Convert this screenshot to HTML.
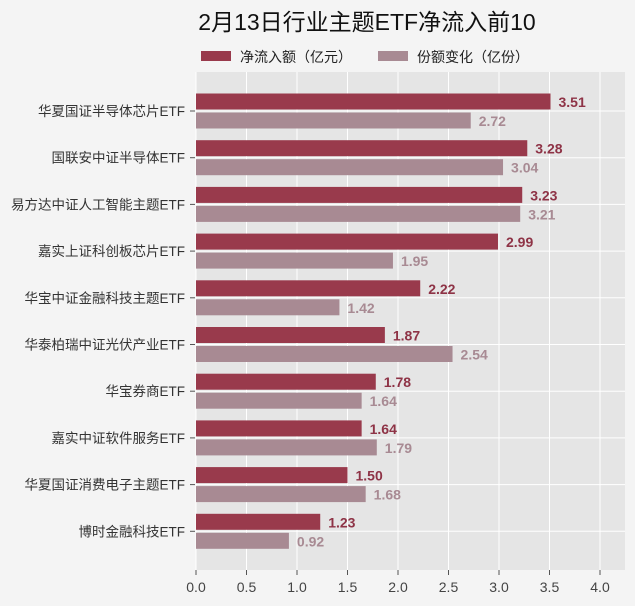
<!DOCTYPE html>
<html><head><meta charset="utf-8"><style>
html,body{margin:0;padding:0;background:#f4f4f4;}
svg{display:block;font-family:"Liberation Sans","Noto Sans CJK SC",sans-serif;}
</style></head><body>
<svg id="chart" width="635" height="606">
<rect x="0" y="0" width="635" height="606" fill="#f4f4f4"/>
<text x="367" y="30" font-size="23" text-anchor="middle" fill="#111">2月13日行业主题ETF净流入前10</text>
<g>
<rect x="201" y="51" width="30" height="10" fill="#993a4c"/>
<text x="240" y="62" font-size="14" fill="#222">净流入额（亿元）</text>
<rect x="378" y="51" width="30" height="10" fill="#a88a93"/>
<text x="417" y="62" font-size="14" fill="#222">份额变化（亿份）</text>
</g>
<rect x="196" y="72" width="429" height="498" fill="#e5e5e5"/>
<g id="grid"></g><g id="bars"></g><g id="axes"></g>
</svg>
<script>
const categories=["华夏国证半导体芯片ETF","国联安中证半导体ETF","易方达中证人工智能主题ETF","嘉实上证科创板芯片ETF","华宝中证金融科技主题ETF","华泰柏瑞中证光伏产业ETF","华宝券商ETF","嘉实中证软件服务ETF","华夏国证消费电子主题ETF","博时金融科技ETF"];
const netInflow=[3.51,3.28,3.23,2.99,2.22,1.87,1.78,1.64,1.50,1.23];
const shareChange=[2.72,3.04,3.21,1.95,1.42,2.54,1.64,1.79,1.68,0.92];
const xTicks=[0,0.5,1.0,1.5,2.0,2.5,3.0,3.5,4.0];
const NS="http://www.w3.org/2000/svg";
const x=v=>196+v*101;
const yc=i=>111+i*46.7;
function mk(tag,attrs,parent,txt){const e=document.createElementNS(NS,tag);for(const k in attrs)e.setAttribute(k,attrs[k]);if(txt!==undefined)e.textContent=txt;parent.appendChild(e);return e;}
const grid=document.getElementById('grid'),bars=document.getElementById('bars'),axes=document.getElementById('axes');
xTicks.forEach(t=>{
 const l=mk('line',{x1:x(t),x2:x(t),y1:72,y2:570,stroke:'#fff','stroke-width':1},grid);
 
 
 const tk=mk('line',{x1:x(t),x2:x(t),y1:570,y2:575,stroke:'#555'},axes);
 
 
 const tl=mk('text',{x:x(t),y:592,'font-size':14,'text-anchor':'middle',fill:'#444'},axes,t.toFixed(1));
 
 
});
categories.forEach((c,i)=>{
 const y=yc(i);
 const g=mk('line',{x1:196,x2:625,y1:y,y2:y,stroke:'#fff','stroke-width':1},grid);
 
 
 const tk=mk('line',{x1:190,x2:195,y1:y,y2:y,stroke:'#555'},axes);
 
 
 const lb=mk('text',{x:185,y:y+5,'font-size':13.5,'text-anchor':'end',fill:'#333'},axes,c);
 
 
 const b1=mk('rect',{x:196,y:y-17.5,width:x(netInflow[i])-196,height:16,fill:'#993a4c'},bars);
 
 
 const v1=mk('text',{x:x(netInflow[i])+8,y:y-4,'font-size':14,'font-weight':'bold',fill:'#8e3346'},bars,netInflow[i].toFixed(2));
 
 
 const b2=mk('rect',{x:196,y:y+1.5,width:x(shareChange[i])-196,height:16,fill:'#a88a93'},bars);
 
 
 const v2=mk('text',{x:x(shareChange[i])+8,y:y+15,'font-size':14,'font-weight':'bold',fill:'#a88a93'},bars,shareChange[i].toFixed(2));
 
 
});
</script>
</body></html>
